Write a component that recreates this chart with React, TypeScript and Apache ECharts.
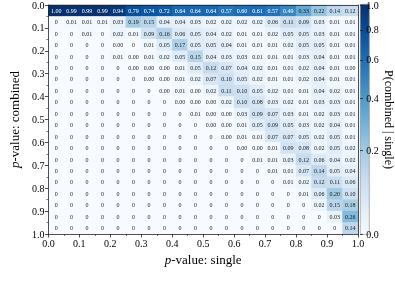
import { useEffect, useRef } from "react";
import * as echarts from "echarts";

const r00 = ["1.00","0.99","0.99","0.99","0.94","0.79","0.74","0.72","0.64","0.64","0.64","0.57","0.60","0.61","0.57","0.49","0.33","0.22","0.14","0.12"];
const r01 = ["0","0.01","0.01","0.01","0.03","0.19","0.15","0.04","0.04","0.03","0.02","0.02","0.02","0.02","0.06","0.11","0.09","0.03","0.01","0.01"];
const r02 = ["0","0","0.01","0","0.02","0.01","0.09","0.16","0.06","0.05","0.04","0.02","0.01","0.01","0.02","0.05","0.05","0.03","0.01","0.01"];
const r03 = ["0","0","0","0","0.00","0","0.01","0.05","0.17","0.05","0.05","0.04","0.01","0.01","0.01","0.02","0.05","0.05","0.01","0.01"];
const r04 = ["0","0","0","0","0.01","0.00","0.01","0.02","0.05","0.15","0.04","0.03","0.03","0.01","0.01","0.01","0.03","0.04","0.01","0.01"];
const r05 = ["0","0","0","0","0","0.00","0.00","0.00","0.01","0.05","0.12","0.07","0.04","0.02","0.01","0.01","0.02","0.04","0.01","0.00"];
const r06 = ["0","0","0","0","0","0","0.00","0.00","0.01","0.02","0.07","0.10","0.05","0.02","0.01","0.01","0.02","0.04","0.01","0.01"];
const r07 = ["0","0","0","0","0","0","0","0.00","0.01","0.00","0.02","0.11","0.10","0.05","0.02","0.01","0.01","0.04","0.02","0.01"];
const r08 = ["0","0","0","0","0","0","0","0","0.00","0.00","0.00","0.02","0.10","0.08","0.03","0.02","0.01","0.03","0.03","0.01"];
const r09 = ["0","0","0","0","0","0","0","0","0","0.01","0.00","0.00","0.03","0.09","0.07","0.03","0.01","0.02","0.03","0.01"];
const r10 = ["0","0","0","0","0","0","0","0","0","0","0.00","0.00","0.01","0.05","0.09","0.05","0.03","0.02","0.04","0.01"];
const r11 = ["0","0","0","0","0","0","0","0","0","0","0","0.00","0.01","0.01","0.07","0.07","0.05","0.02","0.05","0.01"];
const r12 = ["0","0","0","0","0","0","0","0","0","0","0","0","0.00","0.00","0.01","0.09","0.08","0.02","0.05","0.02"];
const r13 = ["0","0","0","0","0","0","0","0","0","0","0","0","0","0.01","0.01","0.03","0.12","0.06","0.04","0.02"];
const r14 = ["0","0","0","0","0","0","0","0","0","0","0","0","0","0","0.01","0.01","0.07","0.14","0.05","0.04"];
const r15 = ["0","0","0","0","0","0","0","0","0","0","0","0","0","0","0","0.01","0.02","0.12","0.11","0.06"];
const r16 = ["0","0","0","0","0","0","0","0","0","0","0","0","0","0","0","0","0.01","0.06","0.20","0.10"];
const r17 = ["0","0","0","0","0","0","0","0","0","0","0","0","0","0","0","0","0","0.02","0.15","0.18"];
const r18 = ["0","0","0","0","0","0","0","0","0","0","0","0","0","0","0","0","0","0","0.03","0.26"];
const r19 = ["0","0","0","0","0","0","0","0","0","0","0","0","0","0","0","0","0","0","0","0.14"];

const cellText = [r00, r01, r02, r03, r04, r05, r06, r07, r08, r09, r10, r11, r12, r13, r14, r15, r16, r17, r18, r19];
const binIndex = r00.map((_, i) => String(i));
const colorbarTicks = [0, 0.2, 0.4, 0.6, 0.8, 1.0];
const blues = ["#f7fbff", "#deebf7", "#c6dbef", "#9ecae1", "#6baed6", "#4292c6", "#2171b5", "#08519c", "#08306b"];

const xTitle = "{i|p}-value: single";
const yTitle = "{i|p}-value: combined";
const cbTitle = "P(combined | single)";

const FONT = "Liberation Serif";
const K = 4;
const norm = (v: number) => Math.log1p(K * v) / Math.log1p(K);
const invNorm = (t: number) => Math.expm1(t * Math.log1p(K)) / K;

const CB = { left: 360, top: 4, width: 9, height: 230 };

export default function App() {
  const ref = useRef<HTMLDivElement>(null);
  useEffect(() => {
    if (!ref.current) return;
    const chart = echarts.init(ref.current, null, { renderer: "svg" });
    const data: any[] = [];
    cellText.forEach((row, i) => {
      row.forEach((s, j) => {
        const v = parseFloat(s);
        data.push({
          value: [j, i, v, norm(v)],
          label: { color: v > 0.4 ? "#ffffff" : "#1a1a1a" },
        });
      });
    });
    const titleStyle = {
      fontFamily: FONT,
      fontSize: 13,
      color: "#000",
      rich: { i: { fontFamily: FONT, fontSize: 13, fontStyle: "italic", color: "#000" } },
    };
    const valAxisCommon = {
      min: 0,
      max: 1,
      interval: 0.1,
      z: 10,
      axisLine: { show: true, lineStyle: { color: "#222", width: 0.8 } },
      axisTick: { show: true, length: 3.5, lineStyle: { color: "#222", width: 0.8 } },
      minorTick: { show: true, splitNumber: 2, length: 2, lineStyle: { color: "#222", width: 0.6 } },
      splitLine: { show: false },
      minorSplitLine: { show: false },
      axisLabel: {
        fontFamily: FONT,
        fontSize: 10,
        color: "#000",
        margin: 4,
        formatter: (v: number) => v.toFixed(1),
      },
    };
    const frameAxis = {
      min: 0,
      max: 1,
      z: 10,
      axisLine: { show: true, lineStyle: { color: "#222", width: 0.8 } },
      axisTick: { show: false },
      axisLabel: { show: false },
      splitLine: { show: false },
    };
    chart.setOption({
      animation: false,
      grid: [
        { left: 30, top: 4, width: 328, height: 230, show: false },
        { ...CB, show: false },
      ],
      graphic: [
        {
          type: "rect",
          left: CB.left,
          top: CB.top,
          z: 1,
          shape: { x: 0, y: 0, width: CB.width, height: CB.height },
          style: {
            fill: new echarts.graphic.LinearGradient(
              0, 0, 0, 1,
              blues.map((c, i) => ({ offset: 1 - i / (blues.length - 1), color: c })).reverse()
            ),
            stroke: "#888",
            lineWidth: 0.6,
          },
        },
      ],
      xAxis: [
        { type: "category", gridIndex: 0, data: binIndex, show: false },
        {
          type: "value",
          gridIndex: 0,
          position: "bottom",
          ...valAxisCommon,
          name: xTitle,
          nameLocation: "middle",
          nameGap: 19,
          nameTextStyle: titleStyle,
        },
        { type: "value", gridIndex: 0, position: "top", ...frameAxis },
        { type: "value", gridIndex: 1, show: false, min: 0, max: 1 },
      ],
      yAxis: [
        { type: "category", gridIndex: 0, data: binIndex, inverse: true, show: false },
        {
          type: "value",
          gridIndex: 0,
          position: "left",
          inverse: true,
          ...valAxisCommon,
          name: yTitle,
          nameLocation: "middle",
          nameGap: 24,
          nameRotate: 90,
          nameTextStyle: titleStyle,
        },
        { type: "value", gridIndex: 0, position: "right", ...frameAxis },
        {
          type: "value",
          gridIndex: 1,
          position: "right",
          min: 0,
          max: 1,
          z: 10,
          axisLine: { show: false },
          axisTick: {
            show: true,
            length: 3,
            customValues: colorbarTicks.map(norm),
            lineStyle: { color: "#222", width: 0.8 },
          },
          splitLine: { show: false },
          axisLabel: {
            fontFamily: FONT,
            fontSize: 10,
            color: "#000",
            margin: 4,
            customValues: colorbarTicks.map(norm),
            formatter: (t: number) => invNorm(t).toFixed(1),
          },
          name: cbTitle,
          nameLocation: "middle",
          nameRotate: -90,
          nameGap: 21,
          nameTextStyle: { fontFamily: FONT, fontSize: 12, color: "#000" },
        },
      ],
      visualMap: {
        type: "continuous",
        show: false,
        seriesIndex: 0,
        dimension: 3,
        min: 0,
        max: 1,
        inRange: { color: blues },
      },
      series: [
        {
          type: "heatmap",
          xAxisIndex: 0,
          yAxisIndex: 0,
          data,
          label: {
            show: true,
            fontFamily: FONT,
            fontSize: 6,
            formatter: (p: any) => cellText[p.value[1]][p.value[0]],
          },
          emphasis: { disabled: true },
        },
      ],
    });
    return () => chart.dispose();
  }, []);
  return <div ref={ref} style={{ position: "fixed", left: 0, top: 0, width: 395, height: 296 }} />;
}
